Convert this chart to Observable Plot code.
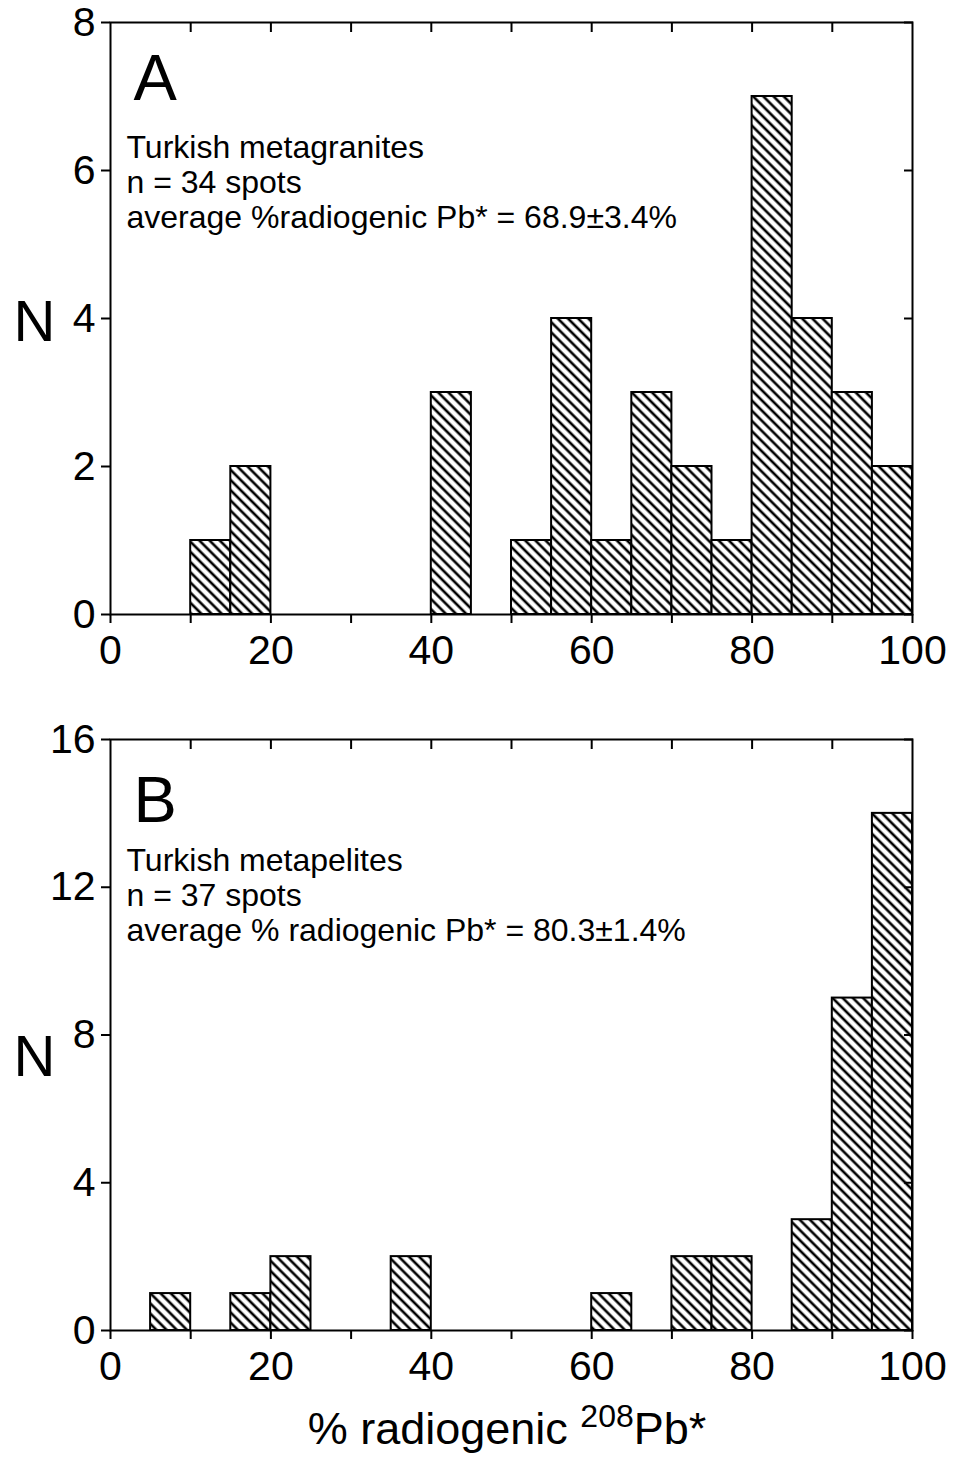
<!DOCTYPE html>
<html>
<head>
<meta charset="utf-8">
<script src="https://cdn.jsdelivr.net/npm/d3@7"></script>
<script src="https://cdn.jsdelivr.net/npm/@observablehq/plot@0.6"></script>
<style>
  body { margin: 0; background: #fff; font-family: "Liberation Sans", Arial, sans-serif; }
  #wrap { position: relative; width: 958px; height: 1461px; }
  #chart svg { display: block; }
  #xlabel { position: absolute; left: 0; width: 958px; top: 1406px; text-align: center; font-size: 45px; line-height: 46px; color: #000; white-space: nowrap; }
  #xlabel span.inner { position: relative; left: 28px; }
  #xlabel sup { font-size: 32px; vertical-align: 0; position: relative; top: -17px; }
</style>
</head>
<body>
<div id="wrap">
  <div id="chart"></div>
  <div id="xlabel"><span class="inner">% radiogenic <sup>208</sup>Pb*</span></div>
</div>
<script>
// ---- data ----
const binWidth = 5;
const aStarts = [10, 15, 40, 50, 55, 60, 65, 70, 75, 80, 85, 90, 95];
const aCounts = [1, 2, 3, 1, 4, 1, 3, 2, 1, 7, 4, 3, 2];
const bStarts = [5, 15, 20, 35, 60, 70, 75, 85, 90, 95];
const bCounts = [1, 1, 2, 2, 1, 2, 2, 3, 9, 14];
const xTicks = [0, 10, 20, 30, 40, 50, 60, 70, 80, 90, 100];
const xLabelTicks = [0, 20, 40, 60, 80, 100];
const aYTicks = [0, 2, 4, 6, 8];
const bYTicks = [0, 4, 8, 12, 16];
const panelLetters = ["A", "B"];
const aLines = ["Turkish metagranites", "n = 34 spots", "average %radiogenic Pb* = 68.9±3.4%"];
const bLines = ["Turkish metapelites", "n = 37 spots", "average % radiogenic Pb* = 80.3±1.4%"];
const yLabel = "N";

const FONT = "'Liberation Sans', Arial, sans-serif";

function panel(cfg) {
  const data = cfg.starts.map((s, i) => ({x1: s, x2: s + binWidth, y: cfg.counts[i]}));
  const fs = 41;
  const p = Plot.plot({
    width: 958,
    height: cfg.height,
    marginLeft: 110,
    marginRight: 46,
    marginTop: cfg.marginTop,
    marginBottom: cfg.marginBottom,
    style: {fontFamily: FONT, fontSize: fs + "px", background: "white", color: "black", overflow: "visible"},
    x: {domain: [0, 100]},
    y: {domain: [0, cfg.yMax]},
    marks: [
      Plot.rectY(data, {x1: "x1", x2: "x2", y: "y", fill: `url(#${cfg.id})`, stroke: "black", strokeWidth: 2}),
      Plot.frame({stroke: "black", strokeWidth: 2}),
      Plot.axisX({anchor: "bottom", ticks: xTicks, tickSize: 9, tickPadding: 11, strokeWidth: 2,
        tickFormat: d => xLabelTicks.includes(d) ? String(d) : "", label: null, fontSize: fs}),
      Plot.axisX({anchor: "top", ticks: xTicks.slice(1, -1), tickSize: -9, strokeWidth: 2,
        tickFormat: () => "", label: null}),
      Plot.axisY({anchor: "left", ticks: cfg.yTicks, tickSize: 9, tickPadding: 6, strokeWidth: 2,
        label: null, fontSize: fs}),
      Plot.axisY({anchor: "right", ticks: cfg.yTicks, tickSize: -9, strokeWidth: 2,
        tickFormat: () => "", label: null}),
      Plot.text([cfg.letter], {frameAnchor: "top-left", textAnchor: "start", lineAnchor: "top",
        dx: 23, dy: cfg.letterDy, fontSize: 65, fill: "black"}),
      Plot.text([cfg.lines.join("\n")], {frameAnchor: "top-left", textAnchor: "start", lineAnchor: "top",
        dx: 16, dy: cfg.textDy, fontSize: 32, lineHeight: 1.1, fill: "black"}),
      Plot.text([yLabel], {frameAnchor: "left", textAnchor: "start", dx: -97, dy: cfg.nDy, fontSize: 58, fill: "black"})
    ]
  });
  const S = 7.2;
  const defs = d3.select(p).insert("defs", ":first-child");
  const pat = defs.append("pattern")
    .attr("id", cfg.id)
    .attr("patternUnits", "userSpaceOnUse")
    .attr("width", S).attr("height", S)
    .attr("patternTransform", "rotate(-45)");
  pat.append("rect").attr("width", S).attr("height", S).attr("fill", "white");
  pat.append("line").attr("x1", S / 2).attr("x2", S / 2).attr("y1", -1).attr("y2", S + 1)
    .attr("stroke", "black").attr("stroke-width", 2.6);
  return p;
}

const chart = document.getElementById("chart");
chart.append(panel({
  id: "hatchA", starts: aStarts, counts: aCounts, yMax: 8, yTicks: aYTicks,
  letter: panelLetters[0], lines: aLines,
  height: 700, marginTop: 22, marginBottom: 86, letterDy: 31, textDy: 110, nDy: 4
}));
chart.append(panel({
  id: "hatchB", starts: bStarts, counts: bCounts, yMax: 16, yTicks: bYTicks,
  letter: panelLetters[1], lines: bLines,
  height: 680, marginTop: 39, marginBottom: 50, letterDy: 36, textDy: 106, nDy: 22
}));
</script>
</body>
</html>
